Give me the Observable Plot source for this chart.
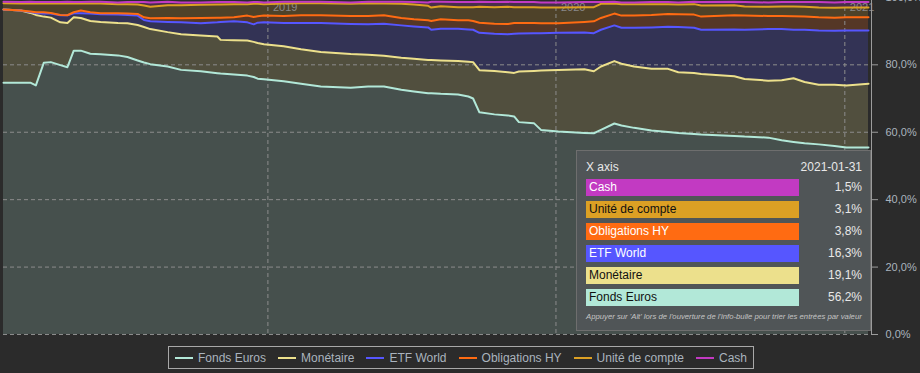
<!DOCTYPE html>
<html><head><meta charset="utf-8">
<script src="https://cdn.jsdelivr.net/npm/d3@7"></script>
<script src="https://cdn.jsdelivr.net/npm/@observablehq/plot@0.6"></script>
<style>
html,body{margin:0;padding:0;background:#2b2b2b;}
body{width:920px;height:373px;overflow:hidden;position:relative;font-family:"Liberation Sans",Arial,sans-serif;}
#chart{position:absolute;left:0;top:0;}
#legend{position:absolute;left:168px;top:346px;height:21px;border:1px solid #a8a8a8;display:flex;align-items:center;padding:0 6px;font-size:12px;color:#aab4be;white-space:nowrap;}
.item{display:flex;align-items:center;margin-right:12px}
.item:last-child{margin-right:0}
.sw{width:18px;height:2px;margin-right:5px}
#tip{position:absolute;left:576px;top:150px;width:293px;height:179px;background:#505557;border:1px solid #6e6e6e;font-size:12px;color:#e8e8e8;}
#tip .hd{position:absolute;top:9px;line-height:14px}
#tip .row{position:absolute;left:9px;width:213px;height:17px;line-height:17px;padding-left:3px;box-sizing:border-box}
#tip .val{position:absolute;right:8px;line-height:17px}
#tip .foot{position:absolute;left:9px;top:161px;line-height:10px;font-style:italic;font-size:7px;color:#c4c4c4;white-space:nowrap}
</style></head><body>
<div id="chart"></div>
<div id="legend"></div>
<div id="tip"></div>
<script>
const dates = [
"2018-01-31","2018-02-22","2018-03-06","2018-03-13","2018-03-23","2018-04-01","2018-04-13","2018-04-22","2018-04-30","2018-05-09",
"2018-05-21","2018-06-03","2018-06-25","2018-07-07","2018-07-20","2018-07-28","2018-08-05","2018-08-27","2018-09-13","2018-10-08",
"2018-10-29","2018-11-02","2018-11-19","2018-12-06","2018-12-14","2018-12-19","2018-12-27","2019-01-21","2019-02-12","2019-03-09",
"2019-04-16","2019-05-08","2019-05-28","2019-06-19","2019-07-05","2019-07-23","2019-07-27","2019-08-08","2019-08-30","2019-09-12",
"2019-09-18","2019-09-26","2019-10-15","2019-11-01","2019-11-09","2019-11-15","2019-12-04","2019-12-13","2020-01-04","2020-02-06",
"2020-02-18","2020-02-27","2020-03-15","2020-03-24","2020-04-09","2020-05-01","2020-05-22","2020-06-04","2020-06-24","2020-07-03",
"2020-08-14","2020-08-27","2020-09-26","2020-10-13","2020-10-28","2020-11-11","2020-11-29","2020-12-19","2021-01-03","2021-01-31"];

const fondsEuros = [
74.7,74.7,74.7,73.9,80.6,80.8,79.9,79.3,84.2,84.2,
83.3,83.1,82.8,82.3,81.3,80.7,80.2,79.5,78.5,78.1,
77.5,77.4,77.1,76.8,76.4,75.9,75.7,75.1,74.4,73.6,
73.2,73.6,73.6,72.6,72.1,71.6,71.6,71.4,71.2,70.6,
70.0,65.9,65.3,65.0,64.7,63.0,62.7,60.7,60.2,59.8,
59.7,60.7,62.6,62.0,61.3,60.5,60.1,59.8,59.5,59.3,
58.9,58.7,58.4,57.6,57.1,56.7,56.4,55.9,55.5,55.5];

const monetaire = [
21.7,21.4,20.7,20.9,13.7,13.2,12.7,13.1,9.9,9.7,
9.7,9.6,9.6,10.0,10.5,10.5,10.4,10.2,10.6,10.6,
10.9,10.0,10.2,10.4,10.4,10.6,10.4,10.4,10.2,10.2,
10.0,9.4,9.1,9.5,9.7,9.8,9.8,9.9,9.9,10.3,
10.8,12.5,12.9,12.8,12.9,15.0,15.5,17.6,18.3,18.9,
18.4,18.8,18.5,18.3,18.2,18.3,18.7,18.0,18.1,18.0,
17.7,17.1,16.9,17.8,18.9,18.2,17.7,18.2,18.4,18.9];

const etfWorld = [
0,0,0.3,0.6,0.9,1.2,2.1,2.3,1.2,1.4,
2.2,2.3,2.5,2.5,2.8,2.1,2.3,3.0,3.5,3.6,
4.2,5.3,5.6,5.4,5.2,6.0,6.5,6.9,7.8,8.6,
8.9,9.0,9.5,9.6,9.6,9.7,9.0,9.4,9.6,9.6,
9.6,11.1,11.0,11.3,11.6,11.3,11.2,11.1,11.0,10.9,
11.3,10.9,10.6,10.7,11.5,12.3,12.5,13.4,13.4,13.1,
13.9,14.6,15.3,15.2,14.4,15.5,16.1,16.0,16.3,15.8];

const obligationsHY = [
0,0,0.1,0.2,0.4,0.2,0.1,0,0.3,0.8,
0.4,0.3,0.4,0.4,0.5,0.8,0.9,1.2,1.2,1.6,
1.4,1.3,1.2,2.0,2.2,1.9,2.0,2.1,2.3,2.3,
2.4,2.5,2.5,2.2,2.1,2.1,2.6,2.8,2.5,2.7,
2.6,3.0,3.0,3.0,3.2,3.1,3.0,2.9,2.8,3.1,
3.5,3.5,3.5,3.6,3.6,3.7,3.8,3.8,3.9,3.9,
4.2,4.2,3.9,3.9,4.0,3.9,3.9,3.9,3.9,3.9];

const uniteDeCompte = [
1.9,2.1,2.5,2.6,2.6,2.8,3.4,3.6,2.6,2.1,
2.6,2.9,2.7,2.8,2.8,3.5,3.4,3.8,3.9,3.9,
3.9,3.9,3.9,3.4,3.9,3.7,3.4,3.7,3.6,3.6,
3.6,3.8,3.5,4.2,4.4,4.3,4.0,3.9,3.9,3.9,
4.1,4.7,4.9,5.1,4.7,4.7,4.7,4.7,4.7,4.4,
4.2,4.2,3.0,3.4,3.4,3.2,2.9,2.9,3.1,3.3,
3.0,2.7,2.7,2.8,2.9,2.9,2.9,2.9,2.9,2.9];

const cash = [
0.4,0.4,0.4,0.4,0.4,0.4,0.4,0.4,0.4,0.4,
0.5,0.5,0.5,0.6,0.7,1.0,1.3,1.0,0.8,0.7,
0.7,0.7,0.6,0.5,0.5,0.5,0.5,0.5,0.4,0.4,
0.4,0.4,0.5,0.6,0.7,1.0,1.7,1.3,1.5,1.5,
1.5,1.5,1.5,1.5,1.5,1.5,1.5,1.5,1.5,1.5,
1.5,0.5,0.5,0.5,0.5,0.6,0.6,0.6,0.7,1.0,
1.0,1.3,1.3,1.3,1.3,1.4,1.6,1.6,1.6,1.6];

const seriesNames = ["Fonds Euros","Monétaire","ETF World","Obligations HY","Unité de compte","Cash"];
const seriesColors = ["#b2e8d8","#ece08c","#5656ff","#ff6b12","#dca024","#c23ac2"];
const yTicks = [0,20,40,60,80,100];
const yearTicks = ["2019-01-01","2020-01-01","2021-01-01"];

const tipTitle = "X axis";
const tipDate = "2021-01-31";
const tipLabels = ["Cash","Unité de compte","Obligations HY","ETF World","Monétaire","Fonds Euros"];
const tipValues = ["1,5%","3,1%","3,8%","16,3%","19,1%","56,2%"];
const tipFooter = "Appuyer sur 'Alt' lors de l'ouverture de l'info-bulle pour trier les entrées par valeur";

const seriesValues = [fondsEuros, monetaire, etfWorld, obligationsHY, uniteDeCompte, cash];
const rows = seriesNames.flatMap((name, k) =>
  dates.map((d, i) => ({date: new Date(d), series: name, value: seriesValues[k][i]})));

const chart = Plot.plot({
  width: 920, height: 373,
  marginTop: 0, marginBottom: 39, marginLeft: 3, marginRight: 49,
  style: {background: "#2b2b2b", fontFamily: "Liberation Sans, Arial, sans-serif", fontSize: "11px", color: "#aab4be"},
  x: {type: "utc", domain: [new Date(dates[0]), new Date(dates[dates.length-1])], range: [3, 868], axis: null},
  y: {domain: [0, 100], range: [334, -3.1], axis: null},
  color: {domain: seriesNames, range: seriesColors},
  marks: [
    Plot.areaY(rows, {x: "date", y: "value", z: "series", fill: "series", fillOpacity: 0.2, order: seriesNames}),
    Plot.gridY(yTicks.filter(t => t < 100), {stroke: "#8c8c8c", strokeOpacity: 1, strokeDasharray: "4,3"}),
    Plot.gridX(yearTicks.map(d => new Date(d)), {stroke: "#8c8c8c", strokeOpacity: 1, strokeDasharray: "4,3"}),
    Plot.text(yearTicks, {x: d => new Date(d), text: d => d.slice(0, 4), frameAnchor: "top", dx: 5, dy: 3,
      textAnchor: "start", lineAnchor: "top", fill: "#8a8a8a", fontSize: 11}),
    Plot.lineY(rows, Plot.stackY2({x: "date", y: "value", z: "series", stroke: "series", order: seriesNames,
      strokeWidth: 2, strokeLinejoin: "round"})),
    Plot.frame({anchor: "right", stroke: "#9c9c9c"}),
    Plot.axisY(yTicks, {anchor: "right", tickSize: 6, tickPadding: 8, stroke: "#9c9c9c", fill: "#aab4be",
      tickFormat: d => d.toFixed(1).replace(".", ",") + "%", fontSize: 11, label: null})
  ]
});
document.getElementById("chart").appendChild(chart);

// legend
const legend = document.getElementById("legend");
seriesNames.forEach((name, k) => {
  const it = document.createElement("div"); it.className = "item";
  const sw = document.createElement("div"); sw.className = "sw"; sw.style.background = seriesColors[k];
  const tx = document.createElement("span"); tx.textContent = name;
  it.appendChild(sw); it.appendChild(tx); legend.appendChild(it);
});

// tooltip
const tip = document.getElementById("tip");
const hl = document.createElement("div"); hl.className = "hd"; hl.style.left = "9px"; hl.textContent = tipTitle; tip.appendChild(hl);
const hr = document.createElement("div"); hr.className = "hd"; hr.style.right = "8px"; hr.textContent = tipDate; tip.appendChild(hr);
const darkText = {"Unité de compte": true, "Monétaire": true, "Fonds Euros": true};
tipLabels.forEach((lab, i) => {
  const top = 28 + i * 22;
  const r = document.createElement("div"); r.className = "row";
  r.style.top = top + "px";
  r.style.background = seriesColors[seriesNames.indexOf(lab)];
  r.style.color = darkText[lab] ? "#111" : "#fff";
  r.textContent = lab; tip.appendChild(r);
  const v = document.createElement("div"); v.className = "val"; v.style.top = top + "px"; v.textContent = tipValues[i]; tip.appendChild(v);
});
const ft = document.createElement("div"); ft.className = "foot"; ft.textContent = tipFooter; tip.appendChild(ft);
const w = ft.offsetWidth; if (w > 0) ft.style.fontSize = (7 * 276 / w) + "px";
</script>
</body></html>
